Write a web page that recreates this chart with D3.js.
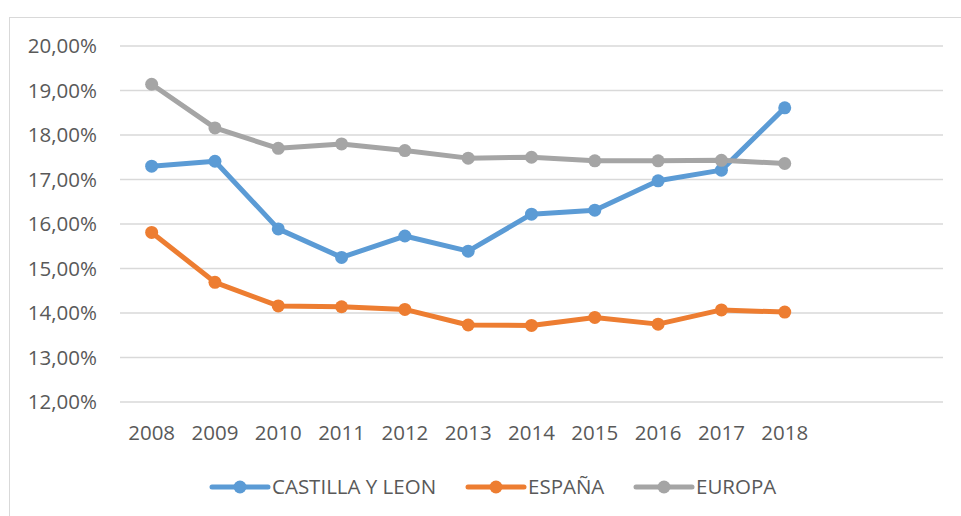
<!DOCTYPE html>
<html>
<head>
<meta charset="utf-8">
<script src="https://cdn.jsdelivr.net/npm/d3@7"></script>
<style>
    body { margin: 0; background: #fff; }
    text { font-family: "Open Sans", sans-serif; fill: #595959; }
</style>
</head>
<body>
<svg id="grafico" width="961" height="516"></svg>
<script>
'use strict';

// Datos (tasa en %)
const anos = ["2008", "2009", "2010", "2011", "2012", "2013", "2014", "2015", "2016", "2017", "2018"];
const castillaLeon = [17.30, 17.41, 15.89, 15.25, 15.73, 15.39, 16.22, 16.31, 16.97, 17.21, 18.61];
const espana = [15.81, 14.69, 14.16, 14.14, 14.08, 13.73, 13.72, 13.90, 13.75, 14.07, 14.02];
const europa = [19.14, 18.16, 17.70, 17.80, 17.65, 17.48, 17.50, 17.42, 17.42, 17.43, 17.36];
const ticksY = [12, 13, 14, 15, 16, 17, 18, 19, 20];
const nombres = ["CASTILLA Y LEON", "ESPAÑA", "EUROPA"];
const colores = ["#5B9BD5", "#ED7D31", "#A5A5A5"];

const svg = d3.select("#grafico");
const tamLetra = "20.5px";

// Marco del gráfico
svg.append("rect")
    .attr("x", 9.5).attr("y", 17.5)
    .attr("width", 970).attr("height", 520)
    .attr("fill", "none")
    .attr("stroke", "#D9D9D9")
    .attr("stroke-width", 1);

// El eje X reserva 13 huecos (los dos últimos vacíos)
const huecos = 13;
const x = d3.scalePoint()
    .domain(d3.range(huecos))
    .range([120, 943])
    .padding(0.5);

const y = d3.scaleLinear()
    .domain([12, 20])
    .range([402, 46]);

// Líneas de cuadrícula
svg.append("g")
    .selectAll("line")
    .data(ticksY)
    .join("line")
    .attr("x1", 120).attr("x2", 943)
    .attr("y1", d => y(d)).attr("y2", d => y(d))
    .attr("stroke", "#D9D9D9")
    .attr("stroke-width", 1.3);

// Etiquetas del eje Y
const formato = d => d.toFixed(2).replace(".", ",") + "%";
svg.append("g")
    .selectAll("text")
    .data(ticksY)
    .join("text")
    .attr("x", 97)
    .attr("y", d => y(d))
    .attr("dy", "0.35em")
    .attr("text-anchor", "end")
    .style("font-size", tamLetra)
    .text(formato);

// Etiquetas del eje X
svg.append("g")
    .selectAll("text")
    .data(anos)
    .join("text")
    .attr("x", (d, i) => x(i))
    .attr("y", 433)
    .attr("dy", "0.35em")
    .attr("text-anchor", "middle")
    .style("font-size", tamLetra)
    .text(d => d);

// Series
const series = [castillaLeon, espana, europa];
const linea = d3.line()
    .x((d, i) => x(i))
    .y(d => y(d));

// Orden de Excel: la última serie queda encima
series.forEach((valores, s) => {
    const g = svg.append("g");
    g.append("path")
        .datum(valores)
        .attr("d", linea)
        .attr("fill", "none")
        .attr("stroke", colores[s])
        .attr("stroke-width", 5)
        .attr("stroke-linejoin", "round");
    g.selectAll("circle")
        .data(valores)
        .join("circle")
        .attr("cx", (d, i) => x(i))
        .attr("cy", d => y(d))
        .attr("r", 6.5)
        .attr("fill", colores[s]);
});

// Leyenda
const posLeyenda = [212, 468, 636];
const leyenda = svg.append("g");
nombres.forEach((nombre, s) => {
    const x0 = posLeyenda[s];
    leyenda.append("line")
        .attr("x1", x0).attr("x2", x0 + 56)
        .attr("y1", 487).attr("y2", 487)
        .attr("stroke", colores[s])
        .attr("stroke-width", 5)
        .attr("stroke-linecap", "round");
    leyenda.append("circle")
        .attr("cx", x0 + 28).attr("cy", 487)
        .attr("r", 6.5)
        .attr("fill", colores[s]);
    leyenda.append("text")
        .attr("x", x0 + 60)
        .attr("y", 487)
        .attr("dy", "0.35em")
        .style("font-size", tamLetra)
        .text(nombre);
});
</script>
</body>
</html>
